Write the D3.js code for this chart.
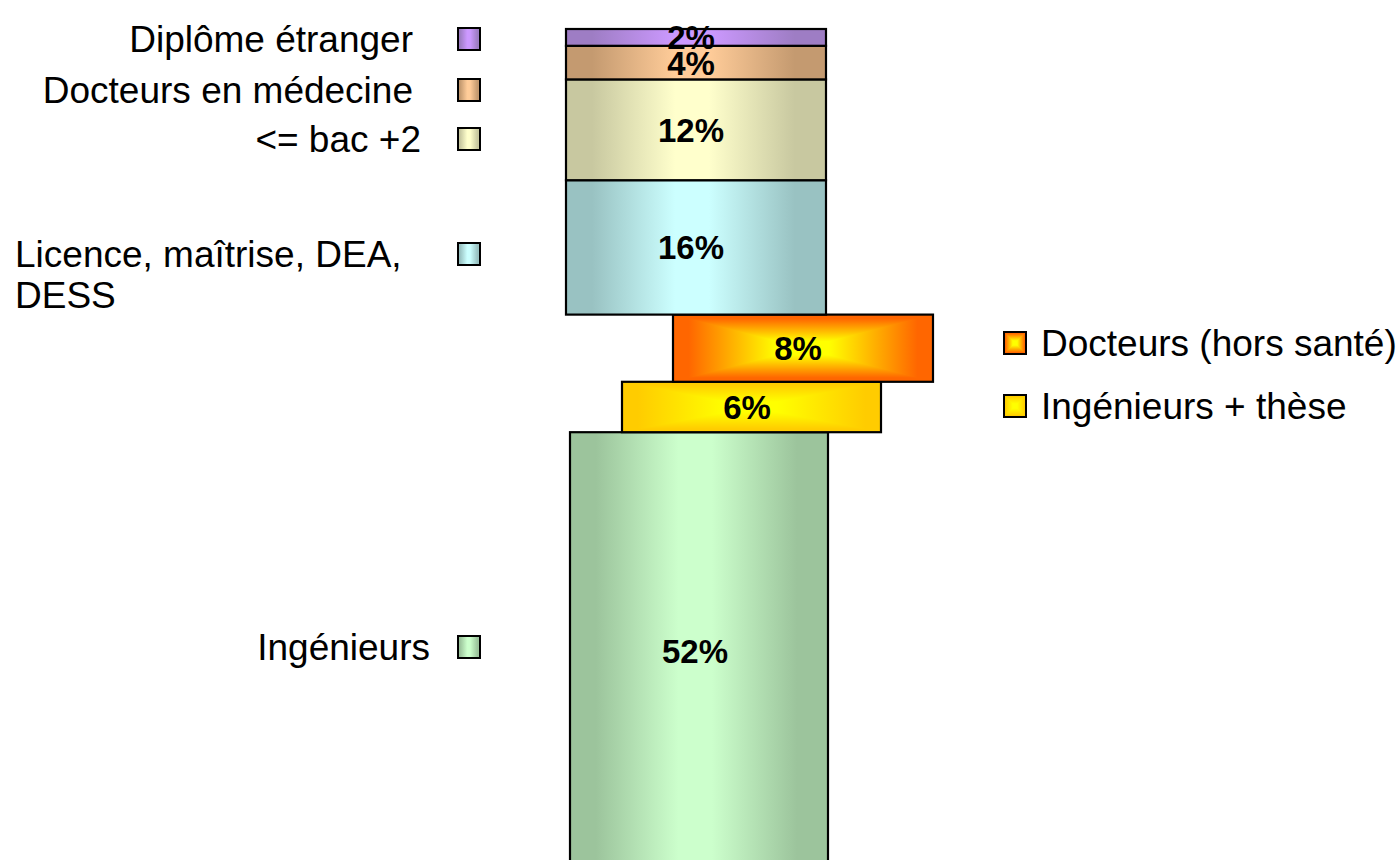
<!DOCTYPE html>
<html><head><meta charset="utf-8">
<script src="https://cdn.jsdelivr.net/npm/d3@7"></script>
<style>body{margin:0;background:#fff}svg{display:block}</style>
</head><body><svg id="c" width="1399" height="860"></svg>
<script>
// ---- DATA ----
const categories = ["Ingénieurs","Ingénieurs + thèse","Docteurs (hors santé)","Licence, maîtrise, DEA, DESS","<= bac +2","Docteurs en médecine","Diplôme étranger"];
const values = [52, 6, 8, 16, 12, 4, 2];
const valueLabels = ["52%","6%","8%","16%","12%","4%","2%"];

// ---- STYLE / LAYOUT ----
const gradType = ["lin","rect","rect","lin","lin","lin","lin"];
const darkCol  = ["#9CC49C","#FFCC00","#FF6600","#99C2C2","#C8C8A0","#C49A70","#9E7DC4"];
const lightCol = ["#CCFFCC","#FFFF00","#FFFF00","#CCFFFF","#FFFFCC","#FFCC99","#CC99FF"];
const barShift = [4, 56, 107, 0, 0, 0, 0];
const barTrim  = [2, 1, 0, 0, 0, 0, 0];
const leftLegend = [
  {i:6, y:39,  end:413},
  {i:5, y:90,  end:413},
  {i:4, y:139, end:421},
  {i:3, y:254, start:15, lines:["Licence, maîtrise, DEA,","DESS"]},
  {i:0, y:647, end:430}
];
const rightLegend = [
  {i:2, y:343},
  {i:1, y:406}
];

const svg = d3.select("#c");
const defs = svg.append("defs");
const FONT = "Arial, 'Liberation Sans', sans-serif";

categories.forEach((c,i)=>{
  if (gradType[i]==="lin"){
    const g = defs.append("linearGradient").attr("id","g"+i).attr("x1",0).attr("x2",1).attr("y1",0).attr("y2",0);
    [[0,darkCol[i]],[0.1,darkCol[i]],[0.42,lightCol[i]],[0.55,lightCol[i]],[0.88,darkCol[i]],[1,darkCol[i]]]
      .forEach(s=>g.append("stop").attr("offset",s[0]).attr("stop-color",s[1]));
  } else {
    const gh = defs.append("linearGradient").attr("id","gh"+i).attr("x1",0).attr("x2",1).attr("y1",0).attr("y2",0);
    const gv = defs.append("linearGradient").attr("id","gv"+i).attr("x1",0).attr("x2",0).attr("y1",0).attr("y2",1);
    [[0,darkCol[i]],[0.06,darkCol[i]],[0.4,lightCol[i]],[0.6,lightCol[i]],[0.94,darkCol[i]],[1,darkCol[i]]].forEach(s=>{
      gh.append("stop").attr("offset",s[0]).attr("stop-color",s[1]);
      gv.append("stop").attr("offset",s[0]).attr("stop-color",s[1]);
    });
  }
});

function drawBox(g, i, x, y, w, h, sw){
  if (gradType[i]==="lin"){
    g.append("rect").attr("x",x).attr("y",y).attr("width",w).attr("height",h).attr("fill","url(#g"+i+")");
  } else {
    g.append("rect").attr("x",x).attr("y",y).attr("width",w).attr("height",h).attr("fill","url(#gh"+i+")");
    const cx=x+w/2, cy=y+h/2;
    g.append("path").attr("d",`M${x},${y}L${x+w},${y}L${cx},${cy}Z M${x},${y+h}L${x+w},${y+h}L${cx},${cy}Z`)
      .attr("fill","url(#gv"+i+")");
  }
  g.append("rect").attr("x",x).attr("y",y).attr("width",w).attr("height",h)
    .attr("fill","none").attr("stroke","#000").attr("stroke-width",sw);
}

// scales
const y = d3.scaleLinear().domain([0,100]).range([869,29]);
const x = d3.scaleLinear().domain([0,1]).range([566,826]);

const row = {}; categories.forEach((c,i)=>row[c]=values[i]);
const series = d3.stack().keys(categories)([row]);

const bars = svg.append("g");
series.forEach((s,i)=>{
  const d = s[0];
  const x0 = x(0)+barShift[i], w = x(1)-x(0)-barTrim[i];
  const yt = y(d[1]), yb = y(d[0]);
  drawBox(bars, i, x0, yt, w, yb-yt, 2.2);
});

// value labels
series.forEach((s,i)=>{
  const d = s[0];
  const cx = (x(0)+x(1))/2 + barShift[i] - 5;
  const cy = (y(d[0])+y(d[1]))/2;
  svg.append("text").attr("x",cx).attr("y",cy+12).attr("text-anchor","middle")
    .attr("font-family",FONT).attr("font-weight","bold").attr("font-size",33).attr("fill","#000")
    .text(valueLabels[i]);
});

// left legend
const M = 22;
leftLegend.forEach(L=>{
  drawBox(svg.append("g"), L.i, 458, L.y-M/2, M, M, 2);
  if (L.lines){
    const t = svg.append("text").attr("font-family",FONT).attr("font-size",37).attr("fill","#000");
    L.lines.forEach((ln,k)=>t.append("tspan").attr("x",L.start).attr("y",L.y+13+k*41).text(ln));
  } else {
    svg.append("text").attr("x",L.end).attr("y",L.y+13).attr("text-anchor","end")
      .attr("font-family",FONT).attr("font-size",37).attr("fill","#000").text(categories[L.i]);
  }
});
// right legend
rightLegend.forEach(L=>{
  drawBox(svg.append("g"), L.i, 1004, L.y-M/2, M, M, 2);
  svg.append("text").attr("x",1041).attr("y",L.y+13)
    .attr("font-family",FONT).attr("font-size",37).attr("fill","#000").text(categories[L.i]);
});
</script></body></html>
